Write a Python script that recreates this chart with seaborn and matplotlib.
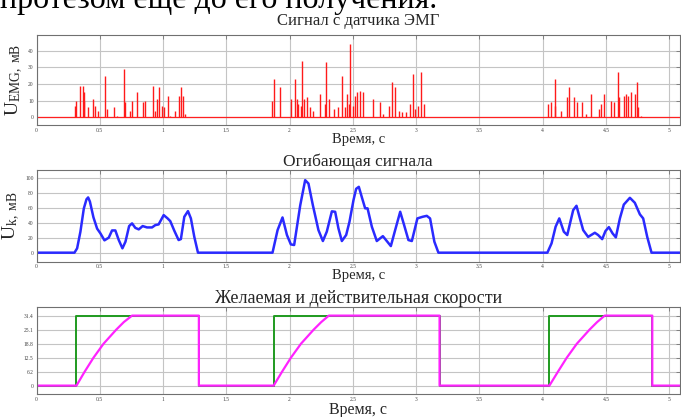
import numpy as np
import pandas as pd
import matplotlib
matplotlib.use("Agg")
import matplotlib.pyplot as plt
import seaborn as sns

# === DATA ===
# EMG spikes: time (s) and amplitude (mV)
emg_t = [0.305, 0.316, 0.340, 0.364, 0.372, 0.377, 0.408, 0.443, 0.460, 0.484,
         0.542, 0.559, 0.610, 0.640, 0.693, 0.703, 0.741, 0.758, 0.793, 0.844,
         0.861, 0.920, 0.937, 0.954, 0.968, 0.988, 1.009, 1.036, 1.053, 1.098,
         1.126, 1.143, 1.157, 1.170,
         1.863, 1.874, 1.925, 2.014, 2.045, 2.060, 2.070, 2.087, 2.097, 2.114,
         2.141, 2.159, 2.182, 2.241, 2.279, 2.286, 2.310, 2.354, 2.382, 2.416,
         2.440, 2.457, 2.467, 2.481, 2.500, 2.519, 2.533, 2.560, 2.577, 2.663,
         2.714, 2.739, 2.783, 2.810, 2.835, 2.862, 2.886, 2.920, 2.948, 2.972,
         2.989, 3.013, 3.040, 3.061,
         4.043, 4.063, 4.094, 4.097, 4.145, 4.190, 4.207, 4.249, 4.269, 4.310,
         4.344, 4.378, 4.447, 4.464, 4.482, 4.543, 4.560, 4.592, 4.605, 4.640,
         4.660, 4.677, 4.695, 4.729, 4.746, 4.756, 4.773]
emg_v = [7, 10, 19, 19, 10, 15, 6, 11, 7, 4,
         25, 5, 6, 1, 29, 9, 4, 10, 15, 9,
         10, 19, 4, 11, 18, 7, 6, 13, 1, 4,
         13, 18, 13, 2,
         10, 23, 18, 11, 23, 11, 8, 7, 34, 11,
         12, 6, 4, 14, 8, 33, 11, 5, 6, 25,
         6, 14, 8, 44, 7, 13, 15, 16, 15, 11,
         9, 2, 7, 21, 18, 4, 3, 3, 8, 26,
         5, 7, 27, 8,
         8, 9, 7, 23, 4, 12, 18, 12, 9, 9,
         2, 14, 5, 8, 14, 10, 9, 27, 12, 13,
         14, 13, 15, 14, 21, 6, 1]

# Envelope of the signal
env_t = [0.00, 0.30, 0.321, 0.347, 0.374, 0.395, 0.408, 0.422, 0.450, 0.479, 0.505, 0.537, 0.571,
         0.597, 0.623, 0.650, 0.679, 0.703, 0.732, 0.755, 0.781, 0.808, 0.839,
         0.873, 0.913, 0.939, 0.965, 1.005, 1.036, 1.057, 1.089, 1.123, 1.141,
         1.168, 1.197, 1.220, 1.247, 1.276,
         1.865, 1.905, 1.944, 1.979, 2.010, 2.036, 2.084, 2.123, 2.149, 2.184,
         2.228, 2.263, 2.294, 2.334, 2.360, 2.386, 2.413, 2.447, 2.473, 2.505,
         2.526, 2.547, 2.574, 2.597, 2.616, 2.650, 2.689, 2.737, 2.768, 2.800,
         2.834, 2.874, 2.905, 2.939, 2.966, 3.010, 3.052, 3.084, 3.110, 3.144,
         3.176,
         4.037, 4.070, 4.102, 4.131, 4.167, 4.194, 4.241, 4.267, 4.294, 4.320,
         4.359, 4.412, 4.438, 4.470, 4.496, 4.523, 4.552, 4.578, 4.610, 4.641,
         4.689, 4.728, 4.768, 4.794, 4.826, 4.860, 5.085]
env_v = [0, 0, 5.8, 27.9, 58.8, 71, 73.5, 68, 47, 32, 25.7, 16.4, 20,
         29.6, 29.6, 16.8, 5.8, 14.6, 35.4, 39, 33, 31, 35.4,
         33.6, 33.6, 36.7, 37.6, 50, 45.6, 42, 29.2, 16.8, 18.1,
         47.8, 55.3, 45.6, 21, 0,
         0, 30, 46.9, 23.5, 11, 10.2, 63, 96.5, 92, 63,
         30, 15.5, 28, 55, 54.4, 32.3, 15.5, 23.5, 41, 70,
         85, 87.6, 72, 59, 59, 34.5, 15.5, 22, 15.5, 8.8,
         30, 54.4, 36.7, 16.8, 15.5, 45.6, 47.8, 49, 45.6, 14.6,
         0,
         0, 12.4, 34.5, 45.6, 27.9, 23.5, 56.6, 62.4, 45.6, 30,
         21, 26.5, 23.5, 18, 28.8, 34, 25.7, 20.4, 45.6, 64,
         73, 66.4, 51, 45.6, 21, 0, 0]

# Desired speed (step) and actual speed
want_t = [0.00, 0.316, 1.283, 1.874, 3.185, 4.053, 4.866, 5.085]
want_v = [0, 31.4, 0, 31.4, 0, 31.4, 0, 0]

real_t = [0.00, 0.316, 0.38, 0.45, 0.53, 0.63, 0.69, 0.755, 1.283, 1.283,
          1.874, 1.94, 2.01, 2.09, 2.19, 2.25, 2.31, 3.185, 3.185,
          4.053, 4.12, 4.19, 4.27, 4.37, 4.43, 4.49, 4.866, 4.866, 5.085]
real_v = [0, 0, 6.2, 12.5, 18.8, 25.1, 28.5, 31.4, 31.4, 0,
          0, 6.2, 12.5, 18.8, 25.1, 28.5, 31.4, 31.4, 0,
          0, 6.2, 12.5, 18.8, 25.1, 28.5, 31.4, 31.4, 0, 0]

speed_ticks = [0, 6.2, 12.5, 18.8, 25.1, 31.4]
x_ticks = [0, 0.5, 1, 1.5, 2, 2.5, 3, 3.5, 4, 4.5, 5]

# === STYLE ===
sns.set_style("white")
plt.rcParams["font.family"] = ["Liberation Serif", "DejaVu Serif"]
plt.rcParams["mathtext.fontset"] = "custom"
plt.rcParams["mathtext.rm"] = "Liberation Serif"
plt.rcParams["mathtext.it"] = "Liberation Serif:italic"

fig = plt.figure(figsize=(6.81, 4.17), dpi=100)

# cut-off line of document text above the chart
fig.text(0.0, 1 - 8 / 417, "протезом еще до его получения.", fontsize=23,
         ha="left", va="baseline", color="black")

L, W = 36.5 / 681, 643.5 / 681
ax1 = fig.add_axes([L, 292 / 417, W, 90 / 417])
ax2 = fig.add_axes([L, 155.3 / 417, W, 91.7 / 417])
ax3 = fig.add_axes([L, 22.7 / 417, W, 87.6 / 417])


def style(ax, yticks, ylim):
    ax.set_xlim(0, 5.085)
    ax.set_ylim(*ylim)
    ax.set_xticks(x_ticks)
    ax.set_xticklabels([f"{t:g}" for t in x_ticks])
    ax.set_yticks(yticks)
    ax.set_yticklabels([f"{t:g}" for t in yticks])
    ax.tick_params(direction="in", length=3, width=0.5, labelsize=4,
                   labelcolor="#444444", color="#666666", pad=2,
                   right=True, top=True)
    ax.grid(True, color="#c4c4c4", lw=0.8)
    ax.set_axisbelow(True)
    for s in ax.spines.values():
        s.set_color("#707070")
        s.set_linewidth(0.8)
    ax.set_xlabel("Время, с", fontsize=10.5, labelpad=0)


# --- EMG signal ---
style(ax1, [0, 10, 20, 30, 40], (-4.6, 49.4))
ax1.axhline(0, color="#ff2020", lw=0.9)
ax1.vlines(emg_t, 0, emg_v, color="#ff1a1a", lw=1.0)
ax1.set_title("Сигнал с датчика ЭМГ", fontsize=12, pad=7)
ax1.set_ylabel(r"U$_{\mathrm{EMG,\ мВ}}$", fontsize=14, labelpad=2)

# --- envelope ---
style(ax2, [0, 20, 40, 60, 80, 100], (-12, 110))
env = pd.DataFrame({"t": env_t, "v": env_v})
sns.lineplot(data=env, x="t", y="v", ax=ax2, color="#2a2aff", lw=1.8,
             estimator=None, sort=False)
ax2.set_xlabel("Время, с", fontsize=10.5, labelpad=0)
ax2.set_ylabel(r"U$_{\mathrm{k,\ мВ}}$", fontsize=14, labelpad=2)
ax2.set_title("Огибающая сигнала", fontsize=12.5, pad=3)

# --- speeds ---
style(ax3, speed_ticks, (-3.9, 35.4))
ax3.step(want_t, want_v, where="post", color="#1f9a1f", lw=1.4)
spd = pd.DataFrame({"t": real_t, "v": real_v})
sns.lineplot(data=spd, x="t", y="v", ax=ax3, color="#ff22ff", lw=1.6,
             estimator=None, sort=False)
ax3.set_xlabel("Время, с", fontsize=11.5, labelpad=0)
ax3.set_ylabel("")
ax3.set_title("Желаемая и действительная скорости", fontsize=13, pad=3)

fig.savefig("out.png", dpi=100)
